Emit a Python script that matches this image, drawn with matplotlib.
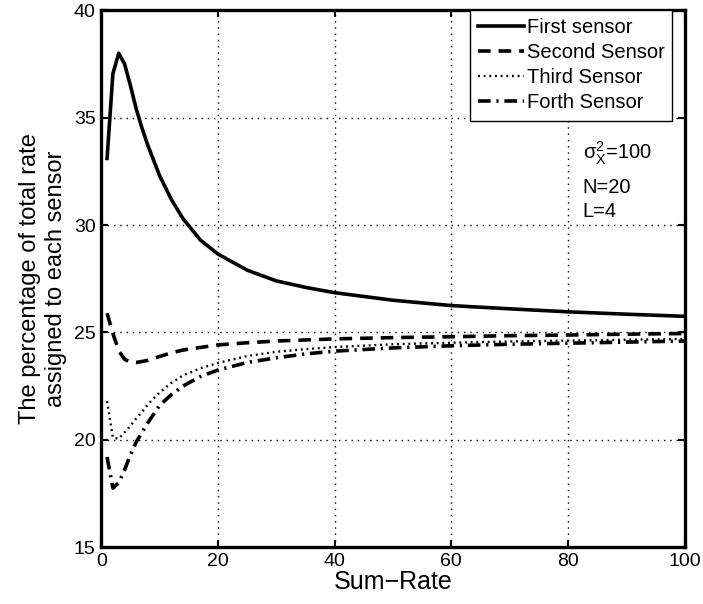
import numpy as np
import matplotlib.pyplot as plt

plt.rcParams['font.family'] = ['Liberation Sans', 'DejaVu Sans']
plt.rcParams['mathtext.fontset'] = 'custom'
plt.rcParams['mathtext.rm'] = 'Liberation Sans'
plt.rcParams['mathtext.it'] = 'Liberation Sans'

sum_rate = [1, 2, 3, 4, 5, 6, 7, 8, 10, 12, 14, 17, 20, 25, 30, 35, 40, 50, 60, 70, 80, 90, 100]
first = [33.1, 37.05, 38.0, 37.5, 36.5, 35.4, 34.5, 33.7, 32.3, 31.2, 30.3, 29.3, 28.65,
         27.9, 27.4, 27.1, 26.85, 26.5, 26.25, 26.1, 25.96, 25.85, 25.75]
second = [25.9, 24.95, 24.15, 23.75, 23.62, 23.6, 23.65, 23.7, 23.88, 24.05, 24.18, 24.3, 24.42,
          24.52, 24.6, 24.65, 24.7, 24.76, 24.8, 24.85, 24.88, 24.92, 24.95]
third = [21.8, 20.1, 20.05, 20.35, 20.65, 21.0, 21.3, 21.65, 22.2, 22.65, 23.0, 23.33, 23.58,
         23.9, 24.1, 24.22, 24.32, 24.45, 24.52, 24.58, 24.62, 24.66, 24.7]
fourth = [19.2, 17.75, 18.0, 18.6, 19.3, 19.9, 20.35, 20.8, 21.6, 22.1, 22.5, 22.95, 23.25,
          23.6, 23.82, 24.0, 24.13, 24.28, 24.38, 24.45, 24.5, 24.55, 24.6]
labels = ['First sensor', 'Second Sensor', 'Third Sensor', 'Forth Sensor']
notes = ['$\\mathrm{\\sigma}_{\\mathrm{X}}^{2}$=100', 'N=20', 'L=4']

fig = plt.figure(figsize=(7.03, 6.04), dpi=100)
ax = fig.add_axes([0.144, 0.094, 0.830, 0.889])

lw = 2.6
ax.plot(sum_rate, first, 'k-', lw=lw, label=labels[0])
ax.plot(sum_rate, second, 'k', lw=lw, dashes=(3.5, 2.2), label=labels[1])
ax.plot(sum_rate, third, 'k', lw=1.7, dashes=(0.8, 1.6), label=labels[2])
ax.plot(sum_rate, fourth, 'k', lw=lw, dashes=(3.5, 1.6, 0.6, 1.6), label=labels[3])

ax.set_xlim(0, 100)
ax.set_ylim(15, 40)
ax.set_xticks(np.arange(0, 101, 20))
ax.set_yticks(np.arange(15, 41, 5))
ax.grid(True, color='k', linestyle=(0, (1, 3.5)), linewidth=1.0)
ax.tick_params(direction='in', length=5, width=1.5, labelsize=14, pad=4,
               top=True, right=True)
for s in ax.spines.values():
    s.set_linewidth(2.4)

ax.set_xlabel('Sum\u2212Rate', fontsize=18, labelpad=0)
ax.set_ylabel('The percentage of total rate\nassigned to each sensor', fontsize=17,
              labelpad=5)

leg = ax.legend(loc='upper right', fontsize=14.5, fancybox=False, framealpha=1,
                edgecolor='k', borderaxespad=0.0, handlelength=2.3, handletextpad=0.12,
                labelspacing=0.3, borderpad=0.4, bbox_to_anchor=(0.979, 1.0))
leg.get_frame().set_linewidth(1.0)

for note, yv in zip(notes, [33.06, 31.5, 30.38]):
    ax.text(82.5, yv, note, fontsize=14.5, va='baseline', ha='left')

fig.savefig('out.png', dpi=100)
